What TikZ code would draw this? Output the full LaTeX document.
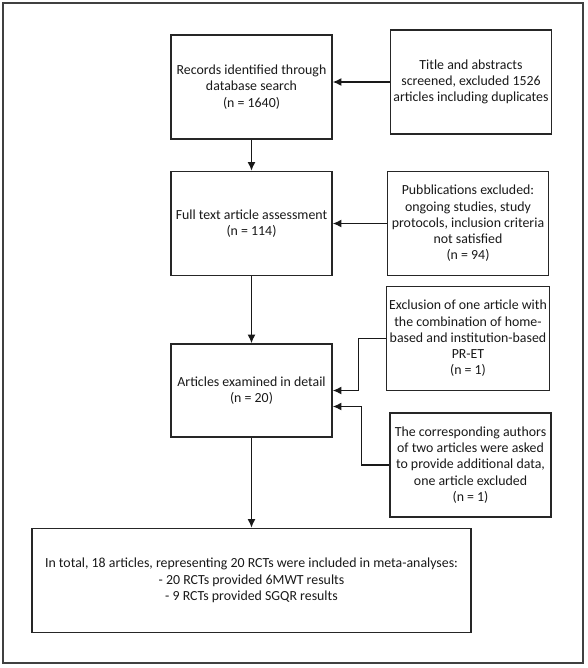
\documentclass[tikz,border=0pt]{standalone}
\usepackage{fontspec}
\setmainfont{Carlito}
\usepackage{tikz}
\usetikzlibrary{arrows,arrows.meta,calc,positioning}
\tikzstyle{arrow} = [draw, -{Latex[length=6.5pt,width=6pt]}, line width=1.1pt, black!90]
\tikzstyle{box} = [rectangle, draw=black!85, line width=1.1pt, align=center,
                   minimum width=120.75pt, minimum height=78pt, inner sep=2pt,
                   text=black!90, font={\fontsize{10.4}{12.2}\selectfont}]
\tikzstyle{frame} = [draw=black!75, line width=1.5pt]

\begin{document}
\begin{tikzpicture}[x=0.75pt, y=-0.75pt]
      \useasboundingbox (0,0) rectangle (587,668);
      \path [frame] (3,3) rectangle (583,663);
      \node [box] at (251.5,87) (records)
        {Records identified through\\
          database search\\
          (n = 1640)};
      \node [box] at (471,82) (screened)
        {Title and abstracts\\
          screened, excluded 1526\\
          articles including duplicates};
      \node [box] at (251.5,223.5) (fulltext)
        {Full text article assessment\\
          (n = 114)};
      \node [box] at (468,223.5) (pubexcl)
        {Pubblications excluded:\\
          ongoing studies, study\\
          protocols, inclusion criteria\\
          not satisfied\\
          (n = 94)};
      \node [box] at (468,338.5) (homeexcl)
        {Exclusion of one article with\\
          the combination of home-\\
          based and institution-based\\
          PR-ET\\
          (n = 1)};
      \node [box, minimum height=69.75pt] at (251.5,390.5) (articles)
        {Articles examined in detail\\
          (n = 20)};
      \node [box] at (470.5,465) (authors)
        {The corresponding authors\\
          of two articles were asked\\
          to provide additional data,\\
          one article excluded\\
          (n = 1)};
      \node [box, minimum width=329.25pt] at (251.5,580.5) (total)
        {In total, 18 articles, representing 20 RCTs were included in meta-analyses:\\
          - 20 RCTs provided 6MWT results\\
          - 9 RCTs provided SGQR results};
      \path [arrow] let \p0=(screened.west), \p1=(records.east) in
        (\x0,\y0) -- (\x1,\y0);
      \path [arrow] (pubexcl.west) -- (fulltext.east);
      \path [arrow] (records) -- (fulltext);
      \path [arrow] (fulltext) -- (articles);
      \path [arrow] (articles) -- (total);
      \path [arrow] (homeexcl.west) -- ++(-27,0) |- (articles.east);
      \path [arrow] (authors.west) -- ++(-28,0) |- ($(articles.east)+(0,16)$);
    \end{tikzpicture}
\end{document}
